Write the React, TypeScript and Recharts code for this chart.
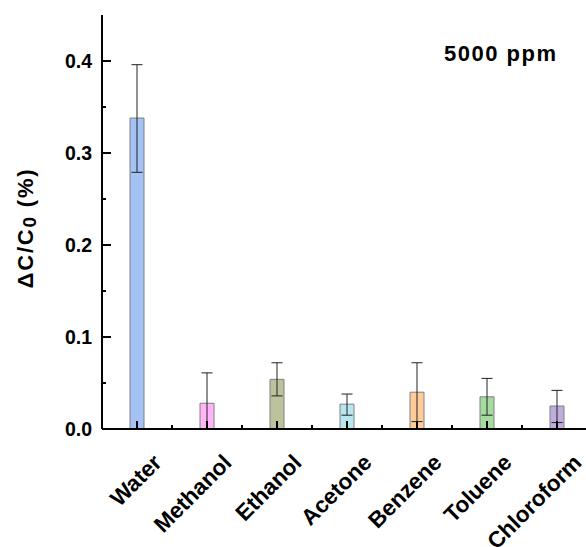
import React from "react";
import { Bar, BarChart, Cell, ErrorBar, XAxis, YAxis } from "recharts";

const categories = ["Water", "Methanol", "Ethanol", "Acetone", "Benzene", "Toluene", "Chloroform"];
const values = [0.338, 0.028, 0.054, 0.027, 0.040, 0.035, 0.025];
const errUp = [0.058, 0.033, 0.018, 0.011, 0.032, 0.020, 0.017];
const errDown = [0.059, 0.028, 0.018, 0.012, 0.032, 0.020, 0.018];
const colors = ["#a4c2f4", "#ffb5f7", "#bcc39c", "#b8e6ee", "#ffcc99", "#a6dba0", "#bfaedb"];
const yTicks = [0, 0.05, 0.1, 0.15, 0.2, 0.25, 0.3, 0.35, 0.4];

const FONT = '"Liberation Sans", Arial, sans-serif';

const data = categories.map((name, i) => ({
  name,
  value: values[i],
  err: [errDown[i], errUp[i]],
}));

const isMajor = (v: number) => Math.abs(v * 10 - Math.round(v * 10)) < 1e-6;

const BottomTick = (props: any) => {
  const { x, y, payload } = props;
  const half = payload?.offset || 35;
  const ax = x + 26;
  const ay = y + 35;
  return (
    <g>
      <line x1={x} x2={x} y1={y} y2={y - 8} stroke="#000" strokeWidth={2} />
      <line x1={x + half} x2={x + half} y1={y} y2={y - 4} stroke="#000" strokeWidth={2} />
      <text
        x={ax}
        y={ay}
        textAnchor="end"
        transform={`rotate(-45, ${ax}, ${ay})`}
        fontFamily={FONT}
        fontWeight="bold"
        fontSize={22.5}
        fill="#000"
      >
        {payload.value}
      </text>
    </g>
  );
};

const TopTick = (props: any) => {
  const { x, y, payload } = props;
  const half = payload?.offset || 35;
  return (
    <g>
      <line x1={x} x2={x} y1={y} y2={y + 8} stroke="#000" strokeWidth={2} />
      <line x1={x + half} x2={x + half} y1={y} y2={y + 4} stroke="#000" strokeWidth={2} />
    </g>
  );
};

const LeftTick = (props: any) => {
  const { x, y, payload } = props;
  const major = isMajor(payload.value);
  return (
    <g>
      <line x1={x} x2={x + (major ? 9 : 4)} y1={y} y2={y} stroke="#000" strokeWidth={2} />
      {major && (
        <text
          x={x - 10}
          y={y + 7}
          textAnchor="end"
          fontFamily={FONT}
          fontWeight="bold"
          fontSize={19.5}
          fill="#000"
        >
          {payload.value.toFixed(1)}
        </text>
      )}
    </g>
  );
};

const RightTick = (props: any) => {
  const { x, y, payload } = props;
  const major = isMajor(payload.value);
  return <line x1={x} x2={x - (major ? 9 : 4)} y1={y} y2={y} stroke="#000" strokeWidth={2} />;
};

const YTitle = () => (
  <text
    x={33}
    y={228}
    textAnchor="middle"
    transform="rotate(-90, 33, 228)"
    fontFamily={FONT}
    fontWeight="bold"
    fontSize={22}
    letterSpacing={1.8}
    fill="#000"
  >
    ΔC/C<tspan fontSize={19} dy={3}>0</tspan>
    <tspan dy={-3}> (%)</tspan>
  </text>
);

export default function App() {
  return (
    <div
      style={{
        position: "fixed",
        left: 0,
        top: 0,
        width: 586,
        height: 547,
        overflow: "hidden",
        background: "#fff",
      }}
    >
      <BarChart
        width={600}
        height={547}
        data={data}
        margin={{ top: 15, right: 8, bottom: 0, left: 0 }}
        barSize={14}
      >
        <XAxis
          dataKey="name"
          height={118}
          interval={0}
          tickSize={0}
          tickMargin={0}
          axisLine={{ stroke: "#000", strokeWidth: 2 }}
          tickLine={false}
          tick={<BottomTick />}
        />
        <XAxis
          xAxisId="top"
          dataKey="name"
          orientation="top"
          height={0}
          interval={0}
          tickSize={0}
          tickMargin={0}
          axisLine={{ stroke: "#000", strokeWidth: 2 }}
          tickLine={false}
          tick={<TopTick />}
        />
        <YAxis
          width={102}
          domain={[0, 0.45]}
          allowDataOverflow
          ticks={yTicks}
          interval={0}
          tickSize={0}
          tickMargin={0}
          axisLine={{ stroke: "#000", strokeWidth: 2 }}
          tickLine={false}
          tick={<LeftTick />}
          label={{ content: () => <YTitle /> }}
        />
        <YAxis
          yAxisId="right"
          orientation="right"
          width={0}
          domain={[0, 0.45]}
          allowDataOverflow
          ticks={yTicks}
          interval={0}
          tickSize={0}
          tickMargin={0}
          axisLine={{ stroke: "#000", strokeWidth: 2 }}
          tickLine={false}
          tick={<RightTick />}
        />
        <Bar dataKey="value" stroke="#808080" strokeWidth={1} isAnimationActive={false}>
          {data.map((d, i) => (
            <Cell key={d.name} fill={colors[i]} />
          ))}
          <ErrorBar dataKey="err" width={5.5} stroke="#222" strokeWidth={1} direction="y" />
        </Bar>
      </BarChart>
      <div
        style={{
          position: "absolute",
          left: 444,
          top: 41,
          fontFamily: FONT,
          fontWeight: "bold",
          fontSize: 22,
          letterSpacing: 1.5,
          color: "#000",
          lineHeight: "26px",
          whiteSpace: "nowrap",
        }}
      >
        5000 ppm
      </div>
    </div>
  );
}
